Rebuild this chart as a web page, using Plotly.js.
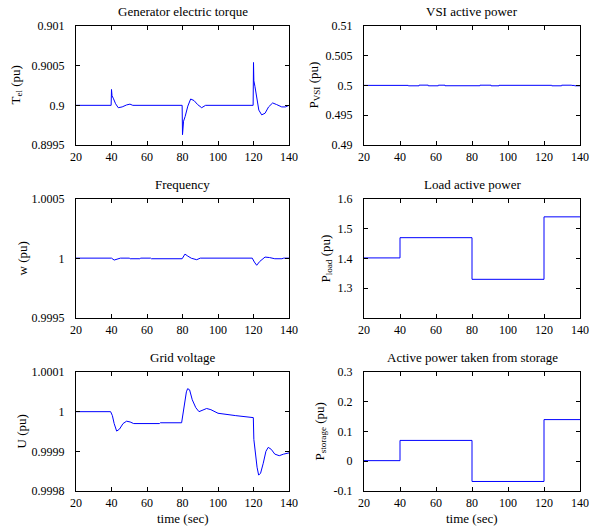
<!DOCTYPE html>
<html>
<head>
<meta charset="utf-8">
<script src="https://cdn.plot.ly/plotly-3.0.1.min.js"></script>
<style>html,body{margin:0;padding:0;background:#fff;}#chart{width:591px;height:529px;}</style>
</head>
<body>
<div id="chart"></div>
<script>
// ---- Data ----
const xTicks = [20, 40, 60, 80, 100, 120, 140];

// Generator electric torque (pu)
const torqueT = [20, 39.8, 40.0, 40.3, 41, 42.3, 43.8, 46, 48.5, 50.4, 52, 79.8, 80.0, 80.2, 80.6, 81.5, 83, 84.6, 86.5, 88.5, 90.8, 93, 100, 119.8, 120.0, 120.2, 120.8, 121.8, 123, 124.6, 126.5, 128.5, 130.8, 133, 135.9, 138, 140];
const torqueV = [0.9, 0.9, 0.9002, 0.90012, 0.90009, 0.90002, 0.89997, 0.89998, 0.900005, 0.900015, 0.9, 0.9, 0.89963, 0.89976, 0.8998, 0.89986, 0.89999, 0.90008, 0.90006, 0.90001, 0.89997, 0.9, 0.9, 0.9, 0.90054, 0.90031, 0.90024, 0.90008, 0.89994, 0.89988, 0.8999, 0.89998, 0.90003, 0.90001, 0.89998, 0.89998, 0.9];
const torqueTicks = [0.8995, 0.9, 0.9005, 0.901];
const torqueTickText = ['0.8995', '0.9', '0.9005', '0.901'];

// VSI active power (pu)
const vsiT = [20, 44.6, 50.6, 55.7, 61.3, 65, 84.4, 90.6, 95, 124.3, 129.8, 135.4, 137, 140];
const vsiV = [0.50002, 0.49995, 0.50006, 0.49995, 0.50005, 0.49996, 0.50005, 0.49995, 0.50003, 0.49995, 0.50005, 0.50001, 0.49995, 0.49995];
const vsiTicks = [0.49, 0.495, 0.5, 0.505, 0.51];
const vsiTickText = ['0.49', '0.495', '0.5', '0.505', '0.51'];

// Frequency (pu)
const freqT = [20, 40, 41.5, 43, 45, 50, 50.5, 56, 56.5, 62, 62.5, 79.8, 80.6, 81.4, 83, 85, 88, 90, 100, 119.3, 120.5, 121.8, 123.5, 126.5, 129, 132, 136, 137, 140];
const freqV = [1.000003, 1.000003, 0.999987, 0.999995, 1.000003, 1.000003, 0.999998, 0.999998, 1.000003, 1.000003, 0.999998, 0.999998, 1.00002, 1.000037, 1.00002, 1.000002, 0.99999, 1.000003, 1.000003, 1.000003, 0.99997, 0.999943, 0.999975, 1.000012, 1.000008, 0.999998, 0.999998, 1.000003, 1.000003];
const freqTicks = [0.9995, 1, 1.0005];
const freqTickText = ['0.9995', '1', '1.0005'];

// Load active power (pu)
const loadT = [20, 40, 80, 120, 140];
const loadV = [1.402, 1.47, 1.33, 1.54, 1.54];
const loadTicks = [1.3, 1.4, 1.5, 1.6];
const loadTickText = ['1.3', '1.4', '1.5', '1.6'];

// Grid voltage (pu)
const voltT = [20, 39.5, 40.5, 41.5, 42.9, 44.5, 46.5, 48.5, 50.5, 52.5, 67, 67.5, 79.5, 80.2, 81, 82.2, 82.9, 84, 85.5, 87.5, 89.3, 91.5, 93.6, 96, 100, 110, 119.3, 119.9, 120.2, 121, 122, 122.9, 124, 125.5, 127, 128.3, 130, 132, 134.5, 137, 140];
const voltV = [1, 1, 0.99999, 0.99997, 0.999951, 0.999956, 0.99997, 0.999976, 0.999974, 0.99997, 0.99997, 0.999972, 0.999972, 0.99999, 1.00002, 1.00005, 1.000058, 1.000055, 1.00003, 1.00001, 1.0, 1.000005, 1.000008, 1.000005, 0.999996, 0.99999, 0.999986, 0.999985, 0.99993, 0.99989, 0.99986, 0.99984, 0.999845, 0.99987, 0.9999, 0.99991, 0.999905, 0.999893, 0.999889, 0.999893, 0.999896];
const voltTicks = [0.9998, 0.9999, 1, 1.0001];
const voltTickText = ['0.9998', '0.9999', '1', '1.0001'];

// Active power taken from storage (pu)
const storT = [20, 40, 80, 120, 140];
const storV = [0.002, 0.07, -0.068, 0.14, 0.14];
const storTicks = [-0.1, 0, 0.1, 0.2, 0.3];
const storTickText = ['-0.1', '0', '0.1', '0.2', '0.3'];

const titles = ['Generator electric torque', 'VSI active power', 'Frequency', 'Load active power', 'Grid voltage', 'Active power taken from storage'];
const yTitles = ['T<sub>el</sub> (pu)', 'P<sub>VSI</sub> (pu)', 'w (pu)', 'P<sub>load</sub> (pu)', 'U (pu)', 'P<sub>storage</sub> (pu)'];
const xTitle = 'time (sec)';

// ---- Layout geometry ----
const W = 591, H = 529;
const colX = [[76, 289], [364, 580]];
const rowY = [[26, 145], [199, 318], [372, 491]];
const FONT = '"Liberation Serif"';
const blue = '#0000ff';

const seriesT = [torqueT, vsiT, freqT, loadT, voltT, storT];
const seriesV = [torqueV, vsiV, freqV, loadV, voltV, storV];
const shapes = ['linear', 'hv', 'linear', 'hv', 'linear', 'hv'];
const yRanges = [[0.8995, 0.901], [0.49, 0.51], [0.9995, 1.0005], [1.2, 1.6], [0.9998, 1.0001], [-0.1, 0.3]];
const yTickVals = [torqueTicks, vsiTicks, freqTicks, loadTicks, voltTicks, storTicks];
const yTickTexts = [torqueTickText, vsiTickText, freqTickText, loadTickText, voltTickText, storTickText];
const yTitleX = [16, 314, 22, 326, 21, 320];

const data = [];
const layout = {
  width: W, height: H,
  margin: {l: 0, r: 0, t: 0, b: 0},
  paper_bgcolor: '#ffffff', plot_bgcolor: '#ffffff',
  showlegend: false,
  font: {family: FONT, size: 12, color: '#000'},
  annotations: []
};

for (let i = 0; i < 6; i++) {
  const r = Math.floor(i / 2), c = i % 2;
  const xa = 'xaxis' + (i === 0 ? '' : i + 1);
  const ya = 'yaxis' + (i === 0 ? '' : i + 1);
  const xr = 'x' + (i === 0 ? '' : i + 1);
  const yr = 'y' + (i === 0 ? '' : i + 1);
  data.push({
    x: seriesT[i], y: seriesV[i], xaxis: xr, yaxis: yr,
    type: 'scatter', mode: 'lines',
    line: {color: blue, width: 1, shape: shapes[i]},
    hoverinfo: 'skip'
  });
  const xd = [colX[c][0] / W, colX[c][1] / W];
  const yd = [(H - rowY[r][1]) / H, (H - rowY[r][0]) / H];
  const common = {
    showline: true, linecolor: '#000', linewidth: 1, mirror: 'ticks',
    ticks: 'inside', ticklen: 4, tickwidth: 1, tickcolor: '#000',
    showgrid: false, zeroline: false, fixedrange: true,
    tickfont: {family: FONT, size: 12, color: '#000'}
  };
  layout[xa] = Object.assign({}, common, {
    domain: xd, range: [20, 140], tickvals: xTicks, anchor: yr,
    ticklabelstandoff: 1
  });
  layout[ya] = Object.assign({}, common, {
    domain: yd, range: yRanges[i], tickvals: yTickVals[i], ticktext: yTickTexts[i], anchor: xr,
    ticklabelstandoff: 8
  });
  // subplot title
  layout.annotations.push({
    text: titles[i], xref: 'paper', yref: 'paper',
    x: (xd[0] + xd[1]) / 2, y: yd[1], xanchor: 'center', yanchor: 'bottom',
    yshift: 5, showarrow: false, font: {family: FONT, size: 13, color: '#000'}
  });
  // y title
  layout.annotations.push({
    text: yTitles[i], xref: 'paper', yref: 'paper',
    x: yTitleX[i] / W, y: (yd[0] + yd[1]) / 2, xanchor: 'center', yanchor: 'middle',
    textangle: -90, showarrow: false, font: {family: FONT, size: 13, color: '#000'}
  });
  if (r === 2) {
    layout.annotations.push({
      text: xTitle, xref: 'paper', yref: 'paper',
      x: (xd[0] + xd[1]) / 2, y: (H - 518) / H, xanchor: 'center', yanchor: 'middle',
      showarrow: false, font: {family: FONT, size: 13, color: '#000'}
    });
  }
}

Plotly.newPlot('chart', data, layout, {displayModeBar: false, staticPlot: true});
</script>
</body>
</html>
